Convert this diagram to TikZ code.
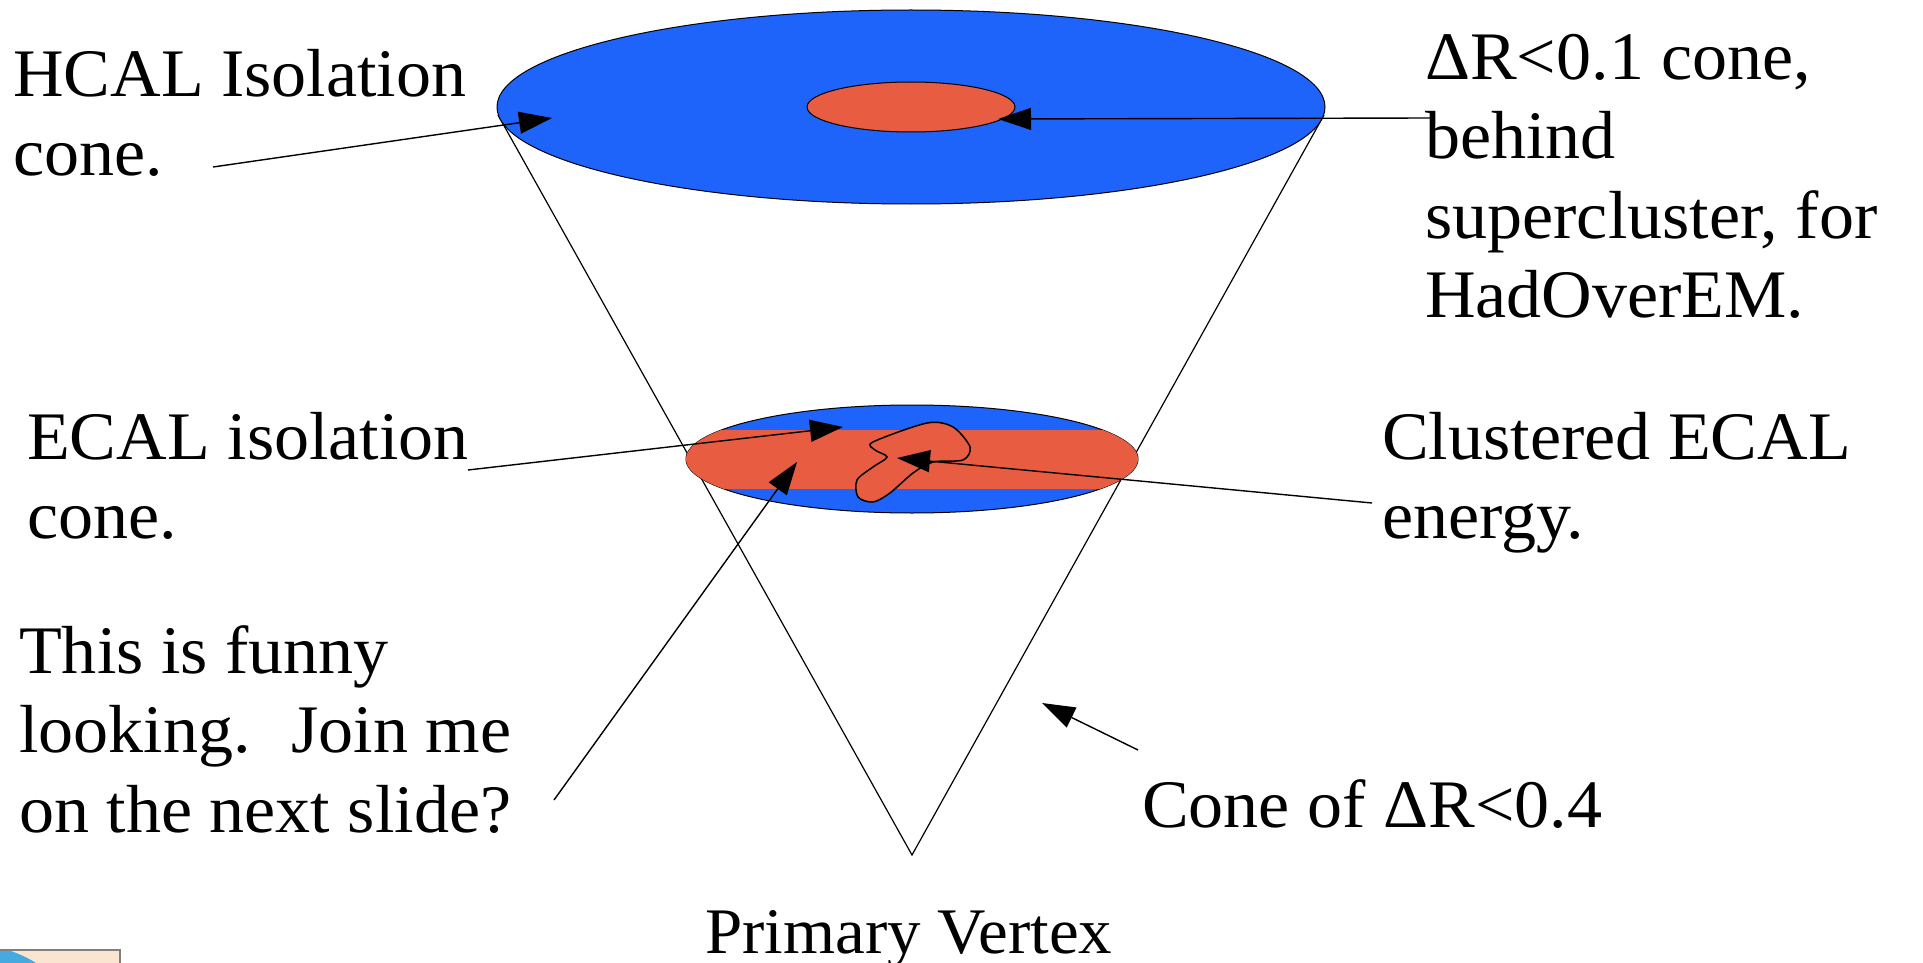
\documentclass[tikz,border=0pt]{standalone}
\usepackage{fontspec}
\setmainfont[FakeStretch=1.03]{Liberation Serif}
\usetikzlibrary{arrows.meta}
\definecolor{calblue}{RGB}{30,100,250}
\definecolor{calred}{RGB}{232,92,66}
\definecolor{iconbeige}{RGB}{250,230,208}
\definecolor{iconblue}{RGB}{70,170,225}
\newcommand{\lblfont}{\fontsize{68}{79.5}\selectfont}

\begin{document}
\begin{tikzpicture}[x=1pt,y=-1pt,
  lbl/.style={anchor=north west,inner sep=0pt,align=left,font=\lblfont},
  arr/.style={-{Triangle[length=33pt,width=22pt]},line width=1.4pt},
  rim/.style={line width=1pt}]
  \useasboundingbox (0,0) rectangle (1923,963);
  % cone from the vertex
  \coordinate (vtx) at (912,855);
  \coordinate (hl) at (498,115);
  \coordinate (hr) at (1324,115);
  \draw[line width=1.2pt] (hl) -- (vtx) -- (hr);
  % HCAL disc
  \draw[rim,fill=calblue] (911,107) ellipse [x radius=414,y radius=97];
  \draw[rim,fill=calred] (911,107) ellipse [x radius=104,y radius=25];
  % ECAL disc
  \draw[rim,fill=calblue] (912,459) ellipse [x radius=226,y radius=54];
  \begin{scope}
    \clip (680,430) rectangle (1145,488);
    \fill[calred] (912,459) ellipse [x radius=226,y radius=54];
  \end{scope}
  \draw[line width=1.5pt,fill=calred] plot[smooth cycle] coordinates {
    (873,442) (927,423) (953,427) (970,447) (963,460) (933,462) (913,473)
    (890,493) (873,502) (858,497) (857,480) (873,467) (887,457) (875,450)};
  % labels
  \node[lbl] (hcal) at (13,40.35) {\strut HCAL Isolation\\cone.};
  \node[lbl] (inner) at (1425,23.35) {\strut ΔR<0.1 cone,\\behind\\supercluster, for\\HadOverEM.};
  \node[lbl] (ecal) at (27,403.35) {\strut ECAL isolation\\cone.};
  \node[lbl] (clus) at (1382,403.35) {\strut Clustered ECAL\\energy.};
  \node[lbl] (funny) at (19,617.35) {\strut This is funny\\looking.~ Join me\\on the next slide?};
  \node[anchor=base west,inner sep=0pt,font=\lblfont] (outer) at (1142,827) {Cone of ΔR<0.4};
  \node[anchor=base west,inner sep=0pt,font=\fontsize{65}{76}\selectfont] (pv) at (705,953) {Primary Vertex};
  % arrows
  \coordinate (hcalfrom) at (213,167);  \coordinate (hcalto) at (552,118);
  \coordinate (innerfrom) at (1430,118); \coordinate (innerto) at (998,119);
  \coordinate (ecalfrom) at (468,470);  \coordinate (ecalto) at (843,427);
  \coordinate (clusfrom) at (1372,503); \coordinate (clusto) at (897,458);
  \coordinate (funnyfrom) at (554,800); \coordinate (funnyto) at (797,462);
  \coordinate (outerfrom) at (1138,750); \coordinate (outerto) at (1042,703);
  \draw[arr] (hcalfrom) -- (hcalto);
  \draw[arr] (innerfrom) -- (innerto);
  \draw[arr] (ecalfrom) -- (ecalto);
  \draw[arr] (clusfrom) -- (clusto);
  \draw[arr] (funnyfrom) -- (funnyto);
  \draw[arr] (outerfrom) -- (outerto);
  % corner icon
  \fill[iconbeige] (0,950) rectangle (120,963);
  \fill[iconblue] (0,950) -- (8,950) .. controls (20,954) and (30,959) .. (36,963) -- (0,963) -- cycle;
  \draw[gray,line width=1.5pt] (0,950) -- (120,950) -- (120,963);
\end{tikzpicture}
\end{document}
